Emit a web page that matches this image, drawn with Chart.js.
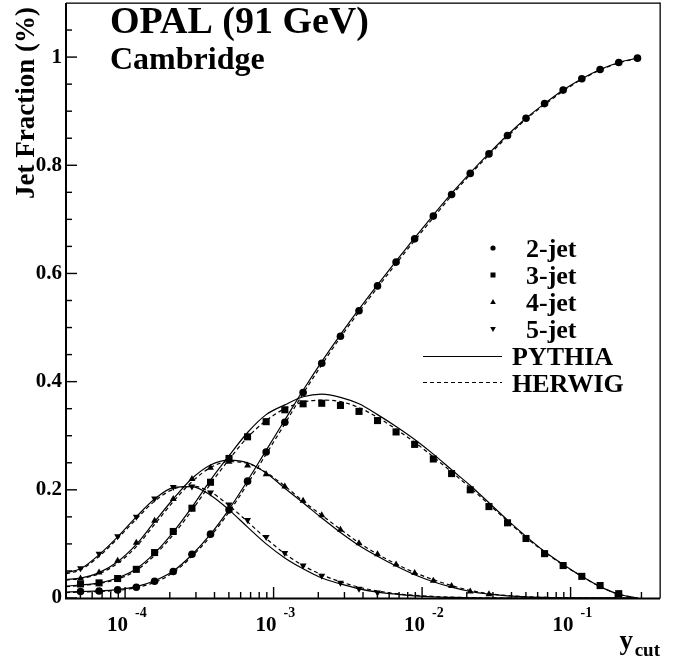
<!DOCTYPE html>
<html><head><meta charset="utf-8">
<script src="https://cdn.jsdelivr.net/npm/chart.js@4.4.0/dist/chart.umd.min.js"></script>
<style>html,body{margin:0;padding:0;background:#fff;}canvas{display:block;}</style>
</head><body>
<canvas id="c" width="678" height="664"></canvas>
<script>
// ---- data ----
const xCuts = [5.01e-5, 6.68e-5, 8.91e-5, 1.19e-4, 1.58e-4, 2.11e-4, 2.82e-4, 3.76e-4, 5.01e-4, 6.68e-4,
  8.91e-4, 1.19e-3, 1.58e-3, 2.11e-3, 2.82e-3, 3.76e-3, 5.01e-3, 6.68e-3, 8.91e-3, 1.19e-2,
  1.58e-2, 2.11e-2, 2.82e-2, 3.76e-2, 5.01e-2, 6.68e-2, 8.91e-2, 0.119, 0.158, 0.211, 0.282];

const jet2 = [0.012,0.013,0.015,0.020,0.031,0.049,0.081,0.118,0.163,0.216,0.270,0.325,0.380,0.434,0.484,0.531,
  0.577,0.621,0.664,0.706,0.746,0.785,0.821,0.855,0.887,0.914,0.939,0.960,0.977,0.990,0.998];
const jet3 = [0.026,0.028,0.036,0.053,0.084,0.123,0.166,0.214,0.258,0.298,0.326,0.348,0.359,0.360,0.356,0.345,
  0.328,0.307,0.284,0.257,0.230,0.200,0.169,0.139,0.110,0.082,0.060,0.040,0.023,0.008,null];
const jet4 = [0.036,0.047,0.069,0.102,0.143,0.183,0.220,0.241,0.252,0.245,0.229,0.206,0.180,0.153,0.126,0.101,
  0.081,0.062,0.046,0.032,0.022,0.012,0.007,null,null,null,null,null,null,null,null];
const jet5 = [0.055,0.082,0.114,0.150,0.184,0.205,0.206,0.195,0.173,0.144,0.113,0.083,0.060,0.041,0.028,0.017,
  0.010,null,null,null,null,null,null,null,null,null,null,null,null,null,null];

const curveX = [4.0e-5, 5.01e-5, 6.68e-5, 8.91e-5, 1.19e-4, 1.58e-4, 2.11e-4, 2.82e-4, 3.76e-4, 5.01e-4, 6.68e-4,
  8.91e-4, 1.19e-3, 1.58e-3, 2.11e-3, 2.82e-3, 3.76e-3, 5.01e-3, 6.68e-3, 8.91e-3, 1.19e-2,
  1.58e-2, 2.11e-2, 2.82e-2, 3.76e-2, 5.01e-2, 6.68e-2, 8.91e-2, 0.119, 0.158, 0.211, 0.282];

const pythia2 = [0.011,0.012,0.013,0.0155,0.021,0.032,0.050,0.080,0.118,0.164,0.217,0.273,0.329,0.384,0.437,0.487,
  0.534,0.579,0.623,0.666,0.708,0.748,0.786,0.822,0.856,0.887,0.914,0.939,0.960,0.977,0.990,0.998];
const herwig2 = [0.010,0.011,0.012,0.014,0.019,0.029,0.047,0.077,0.114,0.159,0.211,0.266,0.322,0.378,0.431,0.482,
  0.529,0.574,0.618,0.661,0.703,0.744,0.783,0.819,0.853,0.885,0.912,0.937,0.959,0.976,0.989,0.998];
const pythia3 = [0.022,0.024,0.028,0.037,0.054,0.083,0.122,0.168,0.218,0.263,0.306,0.339,0.357,0.372,0.377,0.371,
  0.359,0.339,0.317,0.293,0.266,0.237,0.208,0.176,0.144,0.114,0.086,0.062,0.040,0.021,0.007,0.0];
const herwig3 = [0.021,0.023,0.027,0.035,0.051,0.079,0.117,0.162,0.211,0.256,0.297,0.328,0.350,0.362,0.366,0.363,
  0.352,0.334,0.312,0.288,0.261,0.233,0.204,0.173,0.142,0.112,0.085,0.061,0.040,0.021,0.007,0.0];
const pythia4 = [0.034,0.037,0.047,0.067,0.099,0.141,0.183,0.221,0.246,0.255,0.250,0.231,0.203,0.176,0.148,0.121,
  0.097,0.077,0.059,0.043,0.030,0.020,0.012,0.007,0.004,0.002,0.001,0.0,0.0,0.0,0.0,0.0];
const herwig4 = [0.033,0.036,0.045,0.064,0.095,0.136,0.178,0.215,0.241,0.252,0.249,0.232,0.207,0.179,0.153,0.127,
  0.102,0.081,0.063,0.047,0.034,0.023,0.014,0.008,0.0045,0.0025,0.0012,0.0005,0.0,0.0,0.0,0.0];
const pythia5 = [0.047,0.054,0.080,0.113,0.150,0.183,0.204,0.206,0.190,0.163,0.131,0.100,0.074,0.054,0.037,0.026,
  0.017,0.011,0.007,0.004,0.002,0.001,0.0005,0.0,0.0,0.0,0.0,0.0,0.0,0.0,0.0,0.0];
const herwig5 = [0.045,0.052,0.077,0.110,0.146,0.179,0.201,0.207,0.196,0.171,0.141,0.110,0.082,0.060,0.043,0.030,
  0.020,0.013,0.008,0.005,0.003,0.0015,0.0007,0.0003,0.0,0.0,0.0,0.0,0.0,0.0,0.0,0.0];

const jetLabels = ['2-jet', '3-jet', '4-jet', '5-jet'];
const modelLabels = ['PYTHIA', 'HERWIG'];
const xMajorTicks = [1e-4, 1e-3, 1e-2, 1e-1];
const xTickBase = ['10', '10', '10', '10'];
const xTickExp = ['-4', '-3', '-2', '-1'];
const yMajorTicks = [0, 0.2, 0.4, 0.6, 0.8, 1.0];
const yTickLabels = ['0', '0.2', '0.4', '0.6', '0.8', '1'];
const yMinorTicks = [0.05,0.1,0.15,0.25,0.3,0.35,0.45,0.5,0.55,0.65,0.7,0.75,0.85,0.9,0.95,1.05];
const xMinorTicks = [5e-5,6e-5,7e-5,8e-5,9e-5,
  2e-4,3e-4,4e-4,5e-4,6e-4,7e-4,8e-4,9e-4,
  2e-3,3e-3,4e-3,5e-3,6e-3,7e-3,8e-3,9e-3,
  2e-2,3e-2,4e-2,5e-2,6e-2,7e-2,8e-2,9e-2,
  2e-1,3e-1];
const titleText = 'OPAL (91 GeV)';
const subtitleText = 'Cambridge';
const yTitle = 'Jet Fraction (%)';

// ---- build ----
const FONT = '"Liberation Serif","Times New Roman",serif';
function pts(xs, ys) {
  const out = [];
  for (let i = 0; i < xs.length; i++) if (ys[i] !== null && ys[i] !== undefined) out.push({x: xs[i], y: ys[i]});
  return out;
}
function markerDs(label, ys, style, radius, rotation) {
  return {type: 'scatter', label, data: pts(xCuts, ys), pointStyle: style, pointRadius: radius,
    pointRotation: rotation || 0, backgroundColor: '#000', borderColor: '#000', borderWidth: 0,
    showLine: false, order: 0};
}
function curveDs(label, ys, dash) {
  return {type: 'line', label, data: pts(curveX, ys), borderColor: '#000', borderWidth: 1.2,
    borderDash: dash, pointRadius: 0, fill: false, cubicInterpolationMode: 'monotone', order: 1};
}
const SOLID = [], DASH = [4, 3];

const decor = {
  id: 'decor',
  afterDraw(chart) {
    const ctx = chart.ctx, a = chart.chartArea, sx = chart.scales.x, sy = chart.scales.y;
    ctx.save();
    ctx.setLineDash([]);
    ctx.fillStyle = '#000'; ctx.strokeStyle = '#000';
    const L = a.left, B = a.bottom, T = a.top, R = a.right;
    // ticks, drawn inward
    for (const v of xMajorTicks) ctx.fillRect(sx.getPixelForValue(v) - 0.7, B - 11, 1.4, 11);
    for (const v of xMinorTicks) ctx.fillRect(sx.getPixelForValue(v) - 0.7, B - 6, 1.4, 6);
    for (const v of yMajorTicks) ctx.fillRect(L, sy.getPixelForValue(v) - 0.7, 11, 1.4);
    for (const v of yMinorTicks) ctx.fillRect(L, sy.getPixelForValue(v) - 0.7, 6, 1.4);
    // frame
    ctx.fillRect(L - 1, T, 2, B - T + 1);
    ctx.fillRect(L - 1, B - 0.5, R - L + 1, 2);
    ctx.fillRect(L, T - 0.5, R - L, 1.3);
    ctx.fillRect(R - 0.5, T - 0.5, 1.3, B - T + 1);
    // y tick labels
    ctx.font = 'bold 21px ' + FONT;
    ctx.textAlign = 'right'; ctx.textBaseline = 'middle';
    yMajorTicks.forEach((v, i) => ctx.fillText(yTickLabels[i], L - 4, sy.getPixelForValue(v)));
    // x tick labels
    ctx.textBaseline = 'alphabetic';
    xMajorTicks.forEach((v, i) => {
      const p = sx.getPixelForValue(v);
      ctx.font = 'bold 21px ' + FONT; ctx.textAlign = 'right';
      ctx.fillText(xTickBase[i], p + 3, 631);
      ctx.font = 'bold 14px ' + FONT; ctx.textAlign = 'left';
      ctx.fillText(xTickExp[i], p + 10, 617);
    });
    // x title y_cut
    ctx.textAlign = 'right';
    ctx.font = 'bold 19px ' + FONT; ctx.fillText('cut', 660, 656);
    ctx.font = 'bold 27px ' + FONT; ctx.fillText('y', 633, 649);
    // y title
    ctx.save();
    ctx.translate(34, 103); ctx.rotate(-Math.PI / 2);
    ctx.textAlign = 'center'; ctx.font = 'bold 27px ' + FONT;
    ctx.fillText(yTitle, 0, 0);
    ctx.restore();
    // titles
    ctx.textAlign = 'left';
    ctx.font = 'bold 38px ' + FONT; ctx.fillText(titleText, 110, 33);
    ctx.font = 'bold 32px ' + FONT; ctx.fillText(subtitleText, 110, 69);
    // legend
    ctx.font = 'bold 26px ' + FONT;
    const base = [257, 284, 311, 338];
    jetLabels.forEach((t, i) => ctx.fillText(t, 526, base[i]));
    const mx = 493;
    ctx.beginPath(); ctx.arc(mx, 248, 2.6, 0, Math.PI * 2); ctx.fill();
    ctx.fillRect(mx - 2.5, 275 - 2.5, 5, 5);
    ctx.beginPath(); ctx.moveTo(mx, 299); ctx.lineTo(mx + 2.8, 304); ctx.lineTo(mx - 2.8, 304); ctx.closePath(); ctx.fill();
    ctx.beginPath(); ctx.moveTo(mx, 332); ctx.lineTo(mx + 2.8, 327); ctx.lineTo(mx - 2.8, 327); ctx.closePath(); ctx.fill();
    ctx.fillText(modelLabels[0], 512, 365);
    ctx.fillText(modelLabels[1], 512, 392);
    ctx.lineWidth = 1.2;
    ctx.beginPath(); ctx.moveTo(423, 356.5); ctx.lineTo(502, 356.5); ctx.stroke();
    ctx.setLineDash(DASH);
    ctx.beginPath(); ctx.moveTo(423, 382.5); ctx.lineTo(502, 382.5); ctx.stroke();
    ctx.setLineDash([]);
    ctx.restore();
  }
};

new Chart(document.getElementById('c'), {
  type: 'line',
  data: {
    datasets: [
      markerDs(jetLabels[0], jet2, 'circle', 3.8),
      markerDs(jetLabels[1], jet3, 'rect', 5),
      markerDs(jetLabels[2], jet4, 'triangle', 4, 0),
      markerDs(jetLabels[3], jet5, 'triangle', 4, 180),
      curveDs(modelLabels[0] + ' 2-jet', pythia2, SOLID),
      curveDs(modelLabels[1] + ' 2-jet', herwig2, DASH),
      curveDs(modelLabels[0] + ' 3-jet', pythia3, SOLID),
      curveDs(modelLabels[1] + ' 3-jet', herwig3, DASH),
      curveDs(modelLabels[0] + ' 4-jet', pythia4, SOLID),
      curveDs(modelLabels[1] + ' 4-jet', herwig4, DASH),
      curveDs(modelLabels[0] + ' 5-jet', pythia5, SOLID),
      curveDs(modelLabels[1] + ' 5-jet', herwig5, DASH)
    ]
  },
  options: {
    responsive: false, animation: false, devicePixelRatio: 1,
    layout: {autoPadding: false, padding: {left: 66, top: 3, right: 18, bottom: 66}},
    scales: {
      x: {type: 'logarithmic', min: 4e-5, max: 0.4, display: false},
      y: {type: 'linear', min: 0, max: 1.1, display: false}
    },
    plugins: {legend: {display: false}, tooltip: {enabled: false}}
  },
  plugins: [decor]
});
</script>
</body></html>
